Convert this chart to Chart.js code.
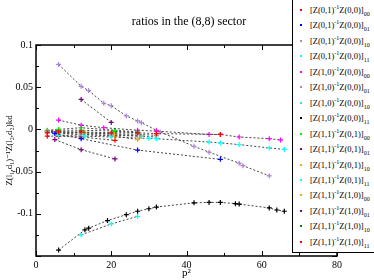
<!DOCTYPE html>
<html>
<head>
<meta charset="utf-8">
<script src="https://cdn.jsdelivr.net/npm/chart.js@4.4.1/dist/chart.umd.min.js"></script>
<style>
  body { margin: 0; background: #fff; overflow: hidden; }
  #wrap { position: relative; width: 374px; height: 280px; }
  #legend {
    position: absolute; left: 292px; top: -2px; width: 100px; height: 253px;
    border: 1px solid #000; background: #fff;
    font: 8.5px "Liberation Serif", "DejaVu Serif", serif; color: #000;
  }
  .dot { position: absolute; left: 7px; width: 2px; height: 2px; }
  .txt { position: absolute; left: 17px; line-height: 10px; white-space: nowrap; }
  .txt sup, .txt sub { font-size: 6px; line-height: 0; }
</style>
</head>
<body>
<div id="wrap">
  <canvas id="ratioChart" width="374" height="280"></canvas>
  <div id="legend"></div>
</div>
<script>
// axis ticks
const xTicks = [0, 20, 40, 60, 80];
const yTicks = [-0.15, -0.1, -0.05, 0, 0.05, 0.1];

// series: [p^2, ratio]
const z01z00_00 = [[3, -0.004], [6, -0.003], [12, -0.003], [20, -0.004], [27, -0.004], [32, -0.005], [49, -0.006]];
const z01z00_01 = [[5, -0.005], [12, -0.011], [27, -0.0245], [49, -0.0355]];
const z01z00_10 = [[3, -0.002], [6, -0.003], [12, -0.004], [20, -0.005], [27, -0.006], [32, -0.007]];
const z01z00_11 = [[6, -0.007], [13, -0.008], [20, -0.009], [30, -0.0107], [32, -0.011], [46, -0.015], [49, -0.016], [54, -0.018], [62, -0.022], [66, -0.0237]];
const z10z00_00 = [[6, 0.011], [12, 0.005], [18, 0.002], [27, -0.001], [32, -0.002], [46, -0.006], [49, -0.006], [54, -0.009], [62, -0.011], [65, -0.0125]];
const z10z00_01 = [[6, 0.077], [12, 0.051], [14, 0.046], [18, 0.031], [20, 0.028], [24, 0.016], [27, 0.01], [28, 0.008], [32, -0.001], [33, -0.003], [42, -0.02], [46, -0.027], [54, -0.04], [55, -0.043], [62, -0.055]];
const z10z00_10 = [[3, -0.003], [6, -0.005], [12, -0.006], [20, -0.007], [28, -0.008], [32, -0.009]];
const z10z00_11 = [[6, -0.143], [13, -0.119], [14, -0.117], [19, -0.108], [24, -0.101], [27, -0.097], [30, -0.094], [32, -0.092], [42, -0.087], [46, -0.0865], [49, -0.0865], [53, -0.088], [54, -0.0885], [62, -0.093], [64, -0.0955], [66, -0.097]];
const z11z01_00 = [[3, -0.001], [6, 0.0], [12, 0.002], [21, -0.001], [27, -0.003]];
const z11z01_01 = [[12, 0.0355], [20, 0.0083]];
const z11z01_10 = [[3, -0.003], [6, -0.004], [12, -0.006], [21, -0.008], [27, -0.012]];
const z11z01_11 = [[12, -0.125], [20, -0.112], [27, -0.103]];
const z11z10_00 = [[3, -0.002], [6, -0.003], [13, -0.004], [21, -0.006], [28, -0.008]];
const z11z10_01 = [[5, -0.012], [12, -0.024], [21, -0.035]];
const z11z10_10 = [[3, -0.002], [6, -0.001], [12, -0.001], [21, -0.002], [27, -0.004]];
const z11z10_11 = [[3, -0.008], [6, -0.008], [12, -0.009], [21, -0.013]];

const seriesData = [z01z00_00, z01z00_01, z01z00_10, z01z00_11, z10z00_00, z10z00_01, z10z00_10, z10z00_11,
  z11z01_00, z11z01_01, z11z01_10, z11z01_11, z11z10_00, z11z10_01, z11z10_10, z11z10_11];
const seriesLabels = [
  "[Z(0,1)^-1Z(0,0)]_00", "[Z(0,1)^-1Z(0,0)]_01", "[Z(0,1)^-1Z(0,0)]_10", "[Z(0,1)^-1Z(0,0)]_11",
  "[Z(1,0)^-1Z(0,0)]_00", "[Z(1,0)^-1Z(0,0)]_01", "[Z(1,0)^-1Z(0,0)]_10", "[Z(1,0)^-1Z(0,0)]_11",
  "[Z(1,1)^-1Z(0,1)]_00", "[Z(1,1)^-1Z(0,1)]_01", "[Z(1,1)^-1Z(0,1)]_10", "[Z(1,1)^-1Z(0,1)]_11",
  "[Z(1,1)^-1Z(1,0)]_00", "[Z(1,1)^-1Z(1,0)]_01", "[Z(1,1)^-1Z(1,0)]_10", "[Z(1,1)^-1Z(1,0)]_11"
];
const seriesColors = ["#ff0000", "#0000ff", "#bc8f8f", "#00ffff", "#ff00ff", "#b080e0", "#40e0d0", "#000000",
  "#00ff00", "#800080", "#ffa500", "#00ffff", "#ffa500", "#800080", "#008000", "#ff0000"];

const serif = '"Liberation Serif", "DejaVu Serif", serif';

const datasets = seriesData.map((pts, i) => ({
  label: seriesLabels[i],
  data: pts.map(p => ({ x: p[0], y: p[1] })),
  showLine: true,
  borderColor: "#444",
  borderWidth: 1,
  borderDash: [2, 2],
  pointStyle: "cross",
  pointRadius: 2.5,
  pointBorderWidth: 1.2,
  pointBorderColor: seriesColors[i],
  pointBackgroundColor: seriesColors[i],
}));

// frame, inward ticks and the title, grace style
const frameTicks = {
  id: "frameTicks",
  afterDatasetsDraw(chart) {
    const { ctx, chartArea: a, scales: { x, y } } = chart;
    ctx.save();
    ctx.strokeStyle = "#000";
    ctx.lineWidth = 1;
    ctx.beginPath();
    for (let v = 0; v <= 80; v += 10) {
      const px = Math.round(x.getPixelForValue(v)) + 0.5;
      const len = v % 20 === 0 ? 5 : 3;
      ctx.moveTo(px, a.bottom); ctx.lineTo(px, a.bottom - len);
      ctx.moveTo(px, a.top); ctx.lineTo(px, a.top + len);
    }
    for (let i = 0; i <= 10; i++) {
      const py = Math.round(y.getPixelForValue(-0.15 + i * 0.025)) + 0.5;
      const len = i % 2 === 0 ? 5 : 3;
      ctx.moveTo(a.left, py); ctx.lineTo(a.left + len, py);
      ctx.moveTo(a.right, py); ctx.lineTo(a.right - len, py);
    }
    ctx.stroke();
    ctx.lineWidth = 1.5;
    ctx.strokeRect(a.left, a.top, a.right - a.left, a.bottom - a.top);
    ctx.fillStyle = "#000";
    ctx.font = "12px " + serif;
    ctx.textAlign = "center";
    ctx.textBaseline = "middle";
    ctx.fillText("ratios in the (8,8) sector", 189, 22);
    ctx.restore();
  }
};

new Chart(document.getElementById("ratioChart"), {
  type: "scatter",
  data: { datasets },
  options: {
    responsive: false,
    animation: false,
    layout: { padding: { top: 45, right: 37, left: 0, bottom: 0 } },
    plugins: { legend: { display: false }, tooltip: { enabled: false } },
    scales: {
      x: {
        min: 0, max: 80,
        afterBuildTicks: s => { s.ticks = xTicks.map(v => ({ value: v })); },
        afterFit: s => { s.height = 24; },
        grid: { display: false, drawTicks: false },
        border: { display: false },
        ticks: { color: "#000", font: { family: serif, size: 10 }, padding: 3 },
        title: { display: true, text: "p²", color: "#000", font: { family: serif, size: 11 }, padding: 0 }
      },
      y: {
        min: -0.15, max: 0.1,
        afterBuildTicks: s => { s.ticks = yTicks.map(v => ({ value: v })); },
        afterFit: s => { s.width = 36; },
        grid: { display: false, drawTicks: false },
        border: { display: false },
        ticks: {
          color: "#000", font: { family: serif, size: 10 }, padding: 3,
          callback: v => (Math.abs(v + 0.15) < 1e-9 ? "" : String(Math.round(v * 100) / 100))
        },
        title: { display: true, text: "Z(l₁,d₁)⁻¹Z(l₂,d₂)kd", color: "#000", font: { family: serif, size: 9 }, padding: { top: 4, bottom: 0 } }
      }
    }
  },
  plugins: [frameTicks]
});

// legend drawn over the top right of the plot
const legend = document.getElementById("legend");
seriesLabels.forEach((lab, i) => {
  const cy = 10 + i * 15.45 + 1;
  const dot = document.createElement("div");
  dot.className = "dot";
  dot.style.top = (cy - 1) + "px";
  dot.style.background = seriesColors[i];
  legend.appendChild(dot);
  const txt = document.createElement("div");
  txt.className = "txt";
  txt.style.top = (cy - 5) + "px";
  txt.innerHTML = lab.replace("^-1", "<sup>-1</sup>").replace(/_(\d\d)$/, "<sub>$1</sub>");
  legend.appendChild(txt);
});
</script>
</body>
</html>
